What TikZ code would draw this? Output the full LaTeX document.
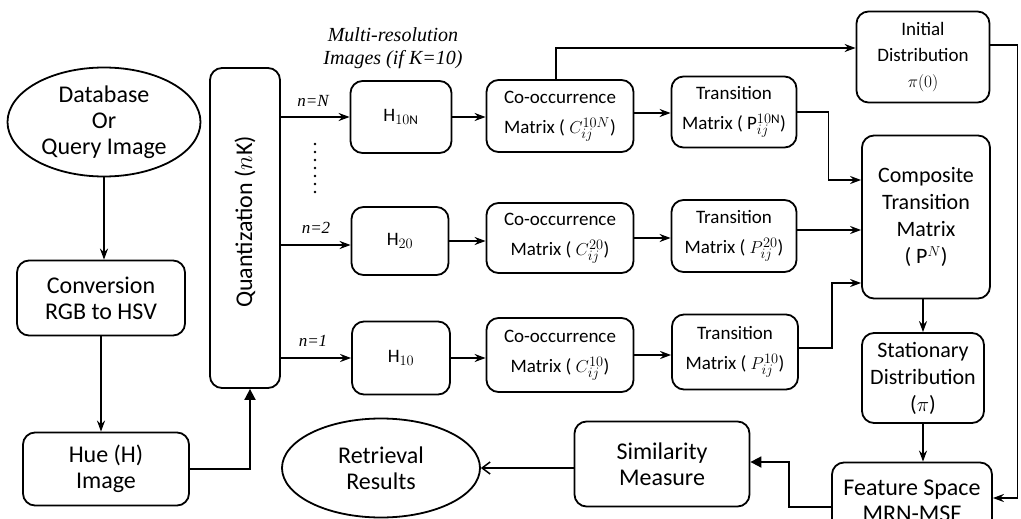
\documentclass[tikz,border=0pt]{standalone}
\usepackage{fontspec}
\setmainfont{Carlito}
\newfontfamily\serifit{Liberation Serif}[ItalicFont=* Italic]
\usetikzlibrary{arrows.meta,shapes.geometric,calc}
\begin{document}
\begin{tikzpicture}[x=1pt,y=-1pt,
  box/.style={draw,line width=1.8pt,rounded corners=12pt,align=center,inner sep=0pt},
  oval/.style={draw,line width=1.8pt,ellipse,align=center,inner sep=0pt},
  big/.style={font=\fontsize{24}{26}\selectfont},
  mid/.style={font=\fontsize{19}{30}\selectfont},
  rgt/.style={font=\fontsize{22}{27}\selectfont},
  lbl/.style={font=\fontsize{17}{20}\selectfont\serifit\itshape,inner sep=0pt},
  arr/.style={line width=1.8pt,-{Stealth[length=11pt,width=8pt]}},
  arrb/.style={line width=1.8pt,-{Triangle[length=11pt,width=11pt]}},
  arro/.style={line width=1.5pt,-{Straight Barb[length=8pt,width=12pt]}}]
\useasboundingbox (0,0) rectangle (1021,519);
\clip (0,0) rectangle (1021,519);
% nodes
\node[oval,big,minimum width=193pt,minimum height=109pt] (db) at (104,122) {Database\\Or\\Query Image};
\node[box,big,minimum width=168pt,minimum height=75pt] (conv) at (101,298) {Conversion\\RGB to HSV};
\node[box,big,minimum width=166pt,minimum height=73pt] (hue) at (106,469) {Hue (H)\\Image};
\node[box,minimum width=70pt,minimum height=320pt] (quant) at (245,228) {};
\node[big,rotate=90] (qlab) at (245,222) {Quantization ($n$K)};
\node[box,mid,minimum width=101pt,minimum height=72pt] (h3) at (401,117) {H$_{10\mathrm{N}}$};
\node[box,mid,minimum width=97pt,minimum height=68pt] (h2) at (400,241) {H$_{20}$};
\node[box,mid,minimum width=98pt,minimum height=73pt] (h1) at (401,358) {H$_{10}$};
\node[box,mid,minimum width=147pt,minimum height=72pt] (c3) at (560,116) {Co-occurrence\\Matrix ( $C_{ij}^{10N}$)};
\node[box,mid,minimum width=147pt,minimum height=70pt] (c2) at (560,238) {Co-occurrence\\Matrix ( $C_{ij}^{20}$)};
\node[box,mid,minimum width=147pt,minimum height=74pt] (c1) at (560,355) {Co-occurrence\\Matrix ( $C_{ij}^{10}$)};
\node[box,mid,minimum width=125pt,minimum height=71pt] (t3) at (734,112) {Transition\\Matrix ( $\mathrm{P}_{ij}^{10\mathrm{N}}$)};
\node[box,mid,minimum width=125pt,minimum height=72pt] (t2) at (734,236) {Transition\\Matrix ( $P_{ij}^{20}$)};
\node[box,mid,minimum width=126pt,minimum height=75pt] (t1) at (735,352) {Transition\\Matrix ( $P_{ij}^{10}$)};
\node[box,font=\fontsize{19}{26}\selectfont,minimum width=133pt,minimum height=91pt] (init) at (923,57) {Initial\\Distribution\\$\pi(0)$};
\node[box,rgt,minimum width=128pt,minimum height=163pt] (comp) at (926,217) {Composite\\Transition\\Matrix\\( P$^{N}$)};
\node[box,rgt,minimum width=122pt,minimum height=90pt] (stat) at (923,378) {Stationary\\Distribution\\($\pi$)};
\node[box,big,minimum width=160pt,minimum height=77pt] (feat) at (912,501) {Feature Space\\MRN-MSF};
\node[box,big,minimum width=175pt,minimum height=85pt] (sim) at (662,464) {Similarity\\Measure};
\node[oval,big,minimum width=198pt,minimum height=99pt] (ret) at (381,468) {Retrieval\\Results};
% labels
\node[lbl,font=\fontsize{20}{23}\selectfont\serifit\itshape,align=center] (mr) at (393,48) {Multi-resolution\\Images (if K=10)};
\node[lbl] (nN) at (313,101) {n=N};
\node[lbl] (n2) at (316,228) {n=2};
\node[lbl] (n1) at (313,341) {n=1};
\draw[line width=2.6pt,line cap=round,dash pattern=on 0pt off 8pt] (315,144) -- (315,193);
% connectors
\draw[arr] (db.south) -- (db.south |- conv.north);
\draw[arr] (conv.south) -- (conv.south |- hue.north);
\draw[arrb] (hue.east) -| ([xshift=5pt]quant.south);
\draw[arr] (quant.east |- h3.west) -- (h3.west);
\draw[arr] ([yshift=-4pt]quant.east |- h2.west) -- ([yshift=-4pt]h2.west);
\draw[arr] (quant.east |- h1.west) -- (h1.west);
\draw[arr] (h3.east) -- (h3.east -| c3.west);
\draw[arr] (h2.east) -- (h2.east -| c2.west);
\draw[arr] (h1.east) -- (h1.east -| c1.west);
\draw[arr] ([yshift=3pt]c3.east) -- ([yshift=3pt]c3.east -| t3.west);
\draw[arr] (c2.east) -- (c2.east -| t2.west);
\draw[arr] (c1.east) -- (c1.east -| t1.west);
\draw[arr] ([xshift=-4pt]c3.north) |- ([yshift=9pt]init.west);
\draw[arr] ([yshift=12pt]init.east) -- ++(27,0) |- ([yshift=3pt]feat.east);
\draw[arr] (t3.east) -- ++(31,0) |- ([yshift=37pt]comp.west);
\draw[arr] ([yshift=6pt]t2.east) -- ([yshift=6pt]t2.east -| comp.west);
\draw[arr] ([yshift=4pt]t1.east) -- ++(33,0) |- ([yshift=-66pt]comp.west);
\draw[arr] (stat.north |- comp.south) -- (stat.north);
\draw[arr] (stat.south) -- (stat.south |- feat.north);
\draw[arrb] ([yshift=-6pt]feat.west) -- ++(-42,0) |- ([yshift=2pt]sim.east);
\draw[arro] (sim.west |- ret.east) -- (ret.east);
\end{tikzpicture}
\end{document}
